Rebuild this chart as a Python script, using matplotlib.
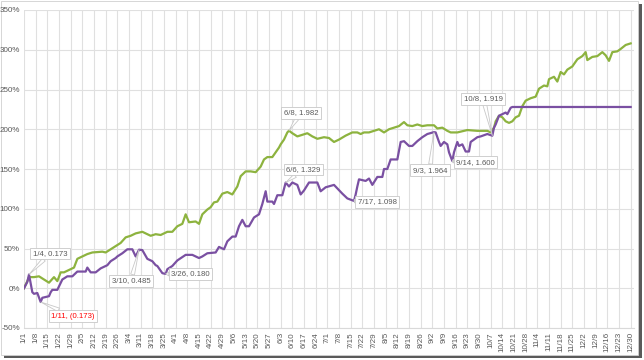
import matplotlib
matplotlib.use("Agg")
import matplotlib.pyplot as plt
import matplotlib.patches as mpatches
import pandas as pd
import numpy as np

# purple series (date, value as ratio)
purple_dates = ["1/1", "1/3", "1/4", "1/6", "1/7", "1/9", "1/11", "1/12", "1/16", "1/17", "1/18",
                "1/21", "1/24", "1/27", "1/30", "2/2", "2/7", "2/8", "2/10", "2/13", "2/16", "2/20",
                "2/22", "2/25", "2/26", "2/29", "3/3", "3/6", "3/8", "3/10", "3/12", "3/15", "3/18",
                "3/20", "3/21", "3/24", "3/26", "3/27", "3/30", "4/2", "4/7", "4/11", "4/15", "4/17",
                "4/20", "4/25", "4/27", "4/30", "5/2", "5/5", "5/7", "5/9", "5/11", "5/13", "5/15",
                "5/18", "5/21", "5/23", "5/25", "5/26", "5/29", "5/30", "6/1", "6/4", "6/6", "6/8",
                "6/10", "6/13", "6/15", "6/17", "6/20", "6/25", "6/27", "6/30", "7/5", "7/10", "7/13",
                "7/17", "7/18", "7/19", "7/20", "7/24", "7/26", "7/28", "7/31", "8/3", "8/4", "8/6",
                "8/8", "8/12", "8/14", "8/16", "8/19", "8/21", "8/24", "8/27", "8/30", "9/3", "9/4",
                "9/6", "9/7", "9/9", "9/11", "9/12", "9/14", "9/15", "9/17", "9/18", "9/20", "9/22",
                "9/24", "9/25", "9/27", "9/29", "10/1", "10/5", "10/8", "10/9", "10/10", "10/12",
                "10/14", "10/16", "10/17", "10/19", "10/20", "12/30"]
purple_vals = [0.00, 0.08, 0.173, -0.05, -0.07, -0.06, -0.173, -0.12, -0.10, -0.05, -0.02,
               -0.02, 0.11, 0.15, 0.15, 0.21, 0.21, 0.26, 0.20, 0.20, 0.25, 0.29,
               0.34, 0.38, 0.40, 0.44, 0.49, 0.49, 0.40, 0.485, 0.48, 0.37, 0.34,
               0.29, 0.28, 0.19, 0.180, 0.24, 0.28, 0.35, 0.42, 0.42, 0.38, 0.40,
               0.44, 0.45, 0.52, 0.49, 0.59, 0.65, 0.65, 0.78, 0.86, 0.78, 0.78,
               0.89, 0.93, 1.06, 1.22, 1.09, 1.09, 1.06, 1.17, 1.17, 1.329, 1.28,
               1.33, 1.30, 1.18, 1.23, 1.33, 1.33, 1.22, 1.27, 1.30, 1.19, 1.13,
               1.098, 1.18, 1.28, 1.37, 1.35, 1.38, 1.30, 1.40, 1.40, 1.50, 1.50,
               1.62, 1.62, 1.84, 1.85, 1.79, 1.79, 1.85, 1.90, 1.94, 1.964, 1.96,
               1.84, 1.79, 1.84, 1.81, 1.71, 1.600, 1.71, 1.84, 1.79, 1.81, 1.72,
               1.72, 1.84, 1.87, 1.90, 1.91, 1.94, 1.919, 2.02, 2.06, 2.17,
               2.19, 2.21, 2.19, 2.27, 2.28, 2.28]

# green series
green_dates = ["1/1", "1/3", "1/4", "1/7", "1/10", "1/13", "1/16", "1/19", "1/21", "1/23", "1/25",
               "1/28", "1/31", "2/2", "2/5", "2/8", "2/11", "2/17", "2/19", "2/22", "2/25", "2/28",
               "3/2", "3/5", "3/8", "3/12", "3/14", "3/17", "3/20", "3/23", "3/27", "3/30", "4/2",
               "4/5", "4/7", "4/9", "4/13", "4/15", "4/17", "4/20", "4/22", "4/24", "4/26", "4/29",
               "5/2", "5/5", "5/8", "5/10", "5/13", "5/16", "5/19", "5/22", "5/24", "5/26", "5/29",
               "5/31", "6/2", "6/3", "6/5", "6/7", "6/8", "6/10", "6/13", "6/16", "6/19", "6/22",
               "6/25", "6/29", "7/2", "7/5", "7/8", "7/12", "7/16", "7/19", "7/21", "7/23", "7/26",
               "7/29", "8/1", "8/4", "8/7", "8/10", "8/13", "8/16", "8/18", "8/21", "8/24", "8/27",
               "8/30", "9/3", "9/5", "9/8", "9/11", "9/13", "9/17", "9/23", "9/29", "10/5", "10/7",
               "10/9", "10/10", "10/12", "10/14", "10/16", "10/18", "10/20", "10/22", "10/24",
               "10/26", "10/28", "10/31", "11/3", "11/5", "11/8", "11/10", "11/11", "11/14",
               "11/16", "11/18", "11/20", "11/22", "11/25", "11/28", "12/1", "12/3", "12/4", "12/7",
               "12/10", "12/13", "12/15", "12/17", "12/19", "12/22", "12/24", "12/27", "12/30"]
green_vals = [0.00, 0.09, 0.14, 0.14, 0.15, 0.11, 0.07, 0.14, 0.09, 0.20, 0.20,
              0.23, 0.26, 0.37, 0.40, 0.43, 0.45, 0.46, 0.45, 0.49, 0.53, 0.57,
              0.64, 0.66, 0.69, 0.71, 0.69, 0.66, 0.68, 0.67, 0.71, 0.71, 0.78,
              0.81, 0.93, 0.83, 0.84, 0.81, 0.93, 0.99, 1.02, 1.08, 1.09, 1.19,
              1.21, 1.18, 1.28, 1.41, 1.47, 1.47, 1.46, 1.53, 1.62, 1.65, 1.65,
              1.71, 1.77, 1.81, 1.87, 1.96, 1.982, 1.95, 1.91, 1.93, 1.95, 1.91,
              1.88, 1.90, 1.89, 1.84, 1.87, 1.92, 1.96, 1.96, 1.94, 1.96, 1.96,
              1.98, 2.00, 1.96, 2.00, 2.02, 2.04, 2.09, 2.05, 2.04, 2.06, 2.04,
              2.05, 2.05, 2.01, 2.02, 1.98, 1.96, 1.96, 1.99, 1.98, 1.98, 1.96,
              2.02, 2.10, 2.17, 2.15, 2.10, 2.08, 2.10, 2.15, 2.17,
              2.29, 2.36, 2.39, 2.41, 2.51, 2.55, 2.54, 2.63, 2.66,
              2.60, 2.72, 2.69, 2.75, 2.79, 2.88, 2.92, 2.97, 2.87, 2.91,
              2.92, 2.97, 2.93, 2.86, 2.97, 2.98, 3.01, 3.06, 3.08]

# callouts: date, value, label, offset in pixels, text colour
callouts = [
    ("1/4", 0.173, "1/4, 0.173", (21, 21), "#595959"),
    ("1/11", -0.173, "1/11, (0.173)", (32, -14), "#ff0000"),
    ("3/10", 0.485, "3/10, 0.485", (-8, -31), "#595959"),
    ("3/26", 0.180, "3/26, 0.180", (25, 0), "#595959"),
    ("6/8", 1.982, "6/8, 1.982", (12, 18), "#595959"),
    ("6/6", 1.329, "6/6, 1.329", (18, 13), "#595959"),
    ("7/17", 1.098, "7/17, 1.098", (23, -1), "#595959"),
    ("9/3", 1.964, "9/3, 1.964", (-4, -38), "#595959"),
    ("9/14", 1.600, "9/14, 1.600", (23, -1), "#595959"),
    ("10/8", 1.919, "10/8, 1.919", (-9, 37), "#595959"),
]

YEAR = "2024"


def to_dt(lst):
    return pd.to_datetime([YEAR + "/" + s for s in lst], format="%Y/%m/%d")


plt.rcParams['font.family'] = ['Liberation Sans', 'DejaVu Sans']

fig = plt.figure(figsize=(6.44, 3.60), dpi=100)
W, H = 644.0, 360.0

# frame with drop shadow
fig.patches.append(mpatches.Rectangle((4 / W, 2 / H), 638 / W, 354 / H, transform=fig.transFigure,
                                      facecolor="#5a5a5a", edgecolor="none", zorder=-3))
fig.patches.append(mpatches.Rectangle((0.5 / W, 5 / H), 637 / W, 354.5 / H, transform=fig.transFigure,
                                      facecolor="white", edgecolor="#d0d0d0", lw=0.6, zorder=-2))

ax = fig.add_axes([24 / W, 32 / H, 610 / W, 318 / H])
ax.set_facecolor("none")

start = pd.Timestamp(YEAR + "-01-01")
ax.plot(to_dt(green_dates), green_vals, color="#8db33f", lw=1.6, zorder=3)
ax.plot(to_dt(purple_dates), purple_vals, color="#7a50a2", lw=1.6, zorder=4)

ax.set_xlim(start, start + pd.Timedelta(days=366))
ax.set_ylim(-0.5, 3.5)

ticks = pd.date_range(start, YEAR + "-12-30", freq="7D")
ax.set_xticks(ticks)
ax.set_xticklabels([f"{t.month}/{t.day}" for t in ticks], rotation=90, fontsize=5.8, color="#595959")
yt = np.arange(-0.5, 3.51, 0.5)
ax.set_yticks(yt)
ax.set_yticklabels([f"{int(round(v * 100))}%" for v in yt], fontsize=5.8, color="#595959")
ax.tick_params(length=0, pad=3)
ax.grid(True, color="#e0e0e0", lw=0.8)
ax.set_axisbelow(True)
for s in ["top", "right", "left"]:
    ax.spines[s].set_visible(False)
ax.spines["bottom"].set_color("#d9d9d9")
ax.spines["bottom"].set_linewidth(0.8)

for d, v, lab, off, col in callouts:
    ax.annotate(lab, xy=(to_dt([d])[0], v), xytext=off, textcoords="offset pixels",
                ha="center", va="center", fontsize=5.6, color=col, zorder=6,
                bbox=dict(boxstyle="square,pad=0.3", fc="white", ec="#c8c8c8", lw=0.6),
                arrowprops=dict(arrowstyle="wedge,tail_width=0.5,shrink_factor=0.5",
                                fc="white", ec="#c8c8c8", lw=0.6, shrinkA=0, shrinkB=0))

fig.savefig("out.png", dpi=100)
